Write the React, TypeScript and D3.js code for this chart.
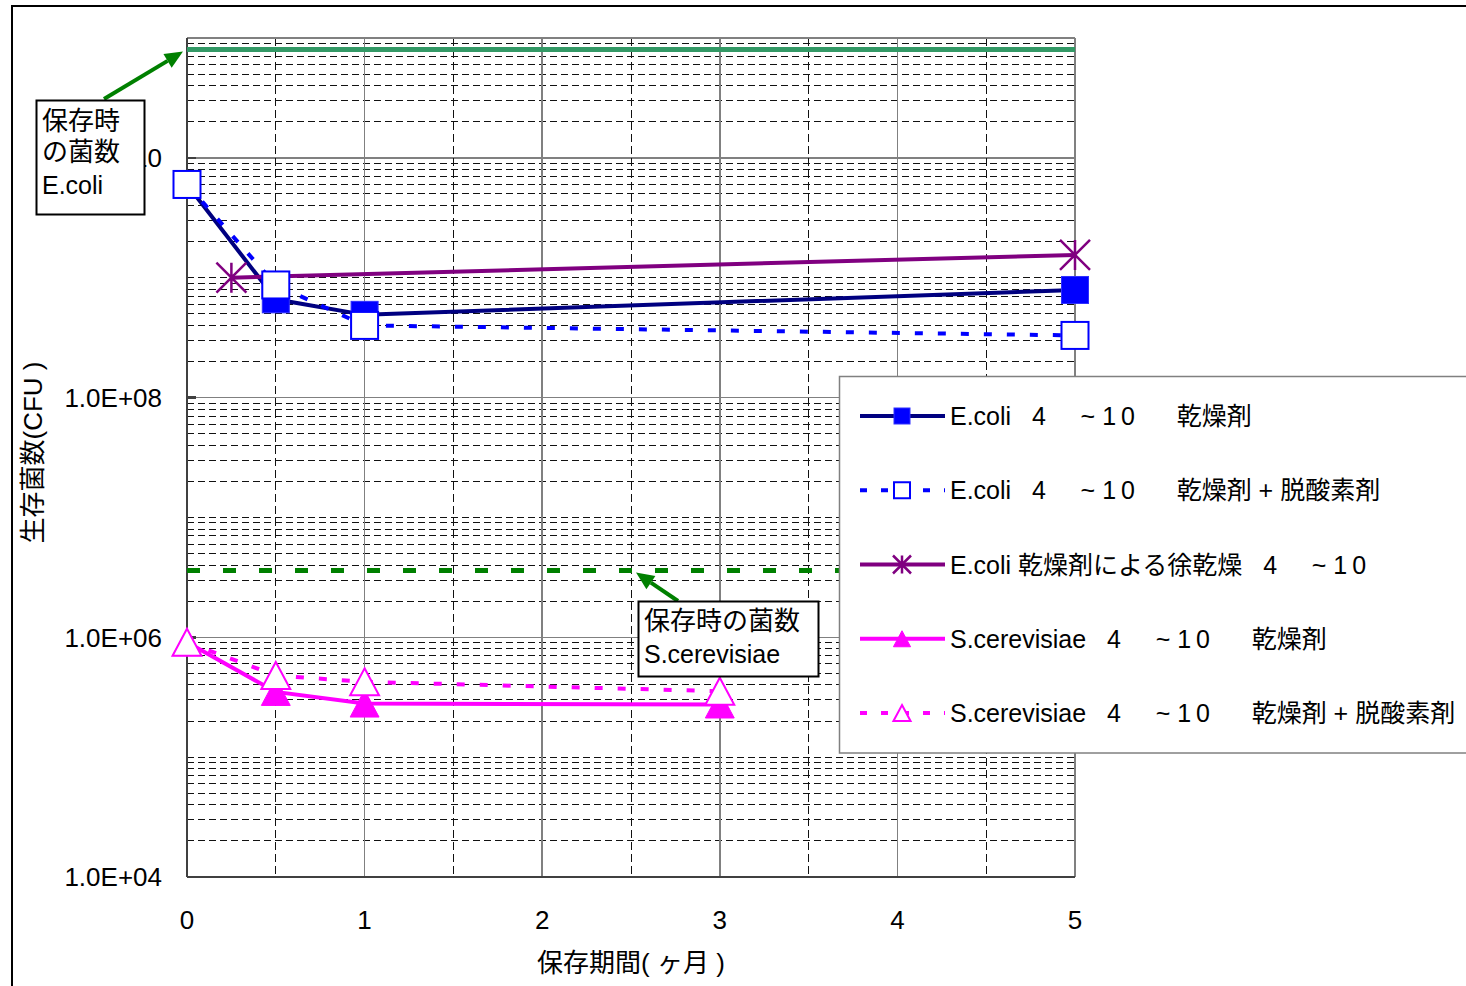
import React from "react";
import * as d3 from "d3";

// storage period (months) and viable counts (CFU) per series
const ecoliDryX = [0, 0.5, 1, 5];
const ecoliDryY = [6.0e9, 6.6e8, 4.9e8, 7.9e8];
const ecoliDryO2X = [0, 0.5, 1, 5];
const ecoliDryO2Y = [6.0e9, 8.7e8, 4.0e8, 3.3e8];
const ecoliSlowX = [0.25, 5];
const ecoliSlowY = [1.0e9, 1.55e9];
const scerDryX = [0, 0.5, 1, 3];
const scerDryY = [9.1e5, 3.5e5, 2.8e5, 2.75e5];
const scerDryO2X = [0, 0.5, 1, 3];
const scerDryO2Y = [9.1e5, 4.8e5, 4.25e5, 3.55e5];

// counts at time of storage
const ecoliInitial = 8.0e10;
const scerInitial = 3.6e6;

const xTicks = [0, 1, 2, 3, 4, 5];
const yTicks = [1e4, 1e6, 1e8, 1e10];
const yTickLabels = ["1.0E+04", "1.0E+06", "1.0E+08", "1.0E+10"];

const legendLabels = [
  "E.coli   4     ~ 1\u20090      乾燥剤",
  "E.coli   4     ~ 1\u20090      乾燥剤 + 脱酸素剤",
  "E.coli 乾燥剤による徐乾燥   4     ~ 1\u20090",
  "S.cerevisiae   4     ~ 1\u20090      乾燥剤",
  "S.cerevisiae   4     ~ 1\u20090      乾燥剤 + 脱酸素剤",
];

const FONT = "'Liberation Sans', Arial, 'Noto Sans CJK JP', sans-serif";
const W = 1466;
const H = 986;
const left = 187;
const right = 1075;
const top = 38;
const bottom = 877;

type Mk = "sqFill" | "sqOpen" | "star" | "triFill" | "triOpen";

const series = [
  { xs: ecoliDryX, ys: ecoliDryY, color: "#000080", mcolor: "#0000ff", dash: null, marker: "sqFill" as Mk },
  { xs: ecoliDryO2X, ys: ecoliDryO2Y, color: "#0000ff", mcolor: "#0000ff", dash: "8,15", marker: "sqOpen" as Mk },
  { xs: ecoliSlowX, ys: ecoliSlowY, color: "#800080", mcolor: "#800080", dash: null, marker: "star" as Mk },
  { xs: scerDryX, ys: scerDryY, color: "#ff00ff", mcolor: "#ff00ff", dash: null, marker: "triFill" as Mk },
  { xs: scerDryO2X, ys: scerDryO2Y, color: "#ff00ff", mcolor: "#ff00ff", dash: "8,15", marker: "triOpen" as Mk },
];

const Marker = ({ type, cx, cy, s, color }: { type: Mk; cx: number; cy: number; s: number; color: string }) => {
  const h = s / 2;
  if (type === "sqFill")
    return <rect x={cx - h} y={cy - h} width={s} height={s} fill={color} stroke="#3030ff" strokeWidth={1} />;
  if (type === "sqOpen")
    return <rect x={cx - h} y={cy - h} width={s} height={s} fill="#fff" stroke={color} strokeWidth={2} />;
  if (type === "star")
    return (
      <path
        d={`M${cx},${cy - h}V${cy + h}M${cx - h},${cy - h}L${cx + h},${cy + h}M${cx - h},${cy + h}L${cx + h},${cy - h}`}
        stroke={color}
        strokeWidth={2.5}
        fill="none"
      />
    );
  const tri = `M${cx},${cy - h}L${cx + h * 1.07},${cy + h}L${cx - h * 1.07},${cy + h}Z`;
  if (type === "triFill") return <path d={tri} fill={color} stroke={color} strokeWidth={1} />;
  return <path d={tri} fill="#fff" stroke={color} strokeWidth={2} />;
};

const Arrow = ({ from, to }: { from: [number, number]; to: [number, number] }) => {
  const ang = Math.atan2(to[1] - from[1], to[0] - from[0]);
  const len = 18;
  const hw = 8;
  const bx = to[0] - len * Math.cos(ang);
  const by = to[1] - len * Math.sin(ang);
  const px = -Math.sin(ang) * hw;
  const py = Math.cos(ang) * hw;
  return (
    <g>
      <line x1={from[0]} y1={from[1]} x2={bx} y2={by} stroke="#008000" strokeWidth={4} />
      <path d={`M${to[0]},${to[1]}L${bx + px},${by + py}L${bx - px},${by - py}Z`} fill="#008000" />
    </g>
  );
};

export default function App() {
  const x = d3.scaleLinear().domain([0, 5]).range([left, right]);
  const y = d3.scaleLog().domain([1e4, 1e11]).range([bottom, top]);

  const gridVals: { v: number; major: boolean }[] = [];
  for (let e = 4; e <= 10; e++) {
    for (let k = 1; k <= 9; k++) gridVals.push({ v: k * Math.pow(10, e), major: k === 1 && e % 2 === 0 });
  }
  const halfMonths = d3.range(0.5, 5, 1);

  const line = d3
    .line<[number, number]>()
    .x((d) => x(d[0]))
    .y((d) => y(d[1]));

  const legendTop = 416;
  const legendStep = 74.25;

  return (
    <svg
      width={W}
      height={H}
      style={{ position: "absolute", left: 0, top: 0, background: "#fff" }}
      fontFamily={FONT}
    >
      <path d={`M12,${H}V6H${W}`} fill="none" stroke="#000" strokeWidth={2} />

      {/* grid */}
      <g shapeRendering="crispEdges">
        {gridVals.map((g, i) =>
          g.major ? (
            <line key={"h" + i} x1={left} x2={right} y1={y(g.v)} y2={y(g.v)} stroke="#808080" strokeWidth={1.5} />
          ) : (
            <line key={"h" + i} x1={left} x2={right} y1={y(g.v)} y2={y(g.v)} stroke="#111" strokeWidth={1} strokeDasharray="7,4" />
          )
        )}
        {halfMonths.map((m) => (
          <line key={"vd" + m} x1={x(m)} x2={x(m)} y1={top} y2={bottom} stroke="#111" strokeWidth={1} strokeDasharray="8,4" />
        ))}
        {xTicks.slice(1).map((m) => (
          <line key={"v" + m} x1={x(m)} x2={x(m)} y1={top} y2={bottom} stroke="#808080" strokeWidth={1.5} />
        ))}
        <line x1={left} x2={right} y1={top} y2={top} stroke="#808080" strokeWidth={1.5} />
        <line x1={left} x2={left} y1={top} y2={bottom} stroke="#404040" strokeWidth={2} />
        <line x1={left} x2={right} y1={bottom} y2={bottom} stroke="#404040" strokeWidth={2} />
        {yTicks.map((v) => (
          <line key={"t" + v} x1={left} x2={left + 9} y1={y(v)} y2={y(v)} stroke="#404040" strokeWidth={2.5} />
        ))}
      </g>

      {/* storage-time reference lines */}
      <line x1={x(0)} x2={x(5)} y1={y(ecoliInitial)} y2={y(ecoliInitial)} stroke="#339966" strokeWidth={5} />
      <line
        x1={x(0)}
        x2={x(5)}
        y1={y(scerInitial)}
        y2={y(scerInitial)}
        stroke="#008000"
        strokeWidth={5}
        strokeDasharray="13,23"
      />

      {/* tick labels */}
      {yTicks.map((v, i) => (
        <text key={"yl" + v} x={162} y={y(v)} dy="0.36em" textAnchor="end" fontSize={26}>
          {yTickLabels[i]}
        </text>
      ))}
      {xTicks.map((m) => (
        <text key={"xl" + m} x={x(m)} y={920} dy="0.36em" textAnchor="middle" fontSize={26}>
          {m}
        </text>
      ))}
      <text x={(left + right) / 2} y={963} dy="0.36em" textAnchor="middle" fontSize={26} style={{ whiteSpace: "pre" }}>
        保存期間( ヶ月 )
      </text>
      <text
        transform={`translate(33,${(top + bottom) / 2 - 5}) rotate(-90)`}
        dy="0.36em"
        textAnchor="middle"
        fontSize={26}
        style={{ whiteSpace: "pre" }}
      >
        生存菌数(CFU )
      </text>

      {/* series lines */}
      {series.map((s, i) => (
        <path
          key={"l" + i}
          d={line(s.xs.map((v, j) => [v, s.ys[j]] as [number, number])) || ""}
          fill="none"
          stroke={s.color}
          strokeWidth={4}
          strokeDasharray={s.dash || undefined}
        />
      ))}
      {series.map((s, i) =>
        s.xs.map((v, j) => (
          <Marker key={"m" + i + "-" + j} type={s.marker} cx={x(v)} cy={y(s.ys[j])} s={s.marker === "star" ? 30 : 27} color={s.mcolor} />
        ))
      )}

      {/* annotations */}
      <Arrow from={[104, 99]} to={[x(0) - 4, y(ecoliInitial) + 2]} />
      <rect x={36.5} y={100.5} width={108} height={114} fill="#fff" stroke="#000" strokeWidth={2} />
      <text x={42} y={121} dy="0.36em" fontSize={26}>保存時</text>
      <text x={42} y={152} dy="0.36em" fontSize={26}>の菌数</text>
      <text x={42} y={185} dy="0.36em" fontSize={25}>E.coli</text>

      <Arrow from={[678, 601]} to={[x(2.5) + 5, y(scerInitial) + 2]} />
      <rect x={638.5} y={601.5} width={180} height={75} fill="#fff" stroke="#000" strokeWidth={2} />
      <text x={644} y={621} dy="0.36em" fontSize={26}>保存時の菌数</text>
      <text x={644} y={654} dy="0.36em" fontSize={25}>S.cerevisiae</text>

      {/* legend */}
      <rect x={839.5} y={376.5} width={700} height={376.5} fill="#fff" stroke="#808080" strokeWidth={1.5} />
      {series.map((s, i) => {
        const ly = legendTop + i * legendStep;
        return (
          <g key={"lg" + i}>
            <line x1={860} x2={945} y1={ly} y2={ly} stroke={s.color} strokeWidth={4} strokeDasharray={s.dash ? "7,14" : undefined} />
            <Marker type={s.marker} cx={902} cy={ly} s={s.marker === "star" ? 18 : 16} color={s.mcolor} />
            <text x={950} y={ly} dy="0.36em" fontSize={25} style={{ whiteSpace: "pre" }}>
              {legendLabels[i]}
            </text>
          </g>
        );
      })}
    </svg>
  );
}
